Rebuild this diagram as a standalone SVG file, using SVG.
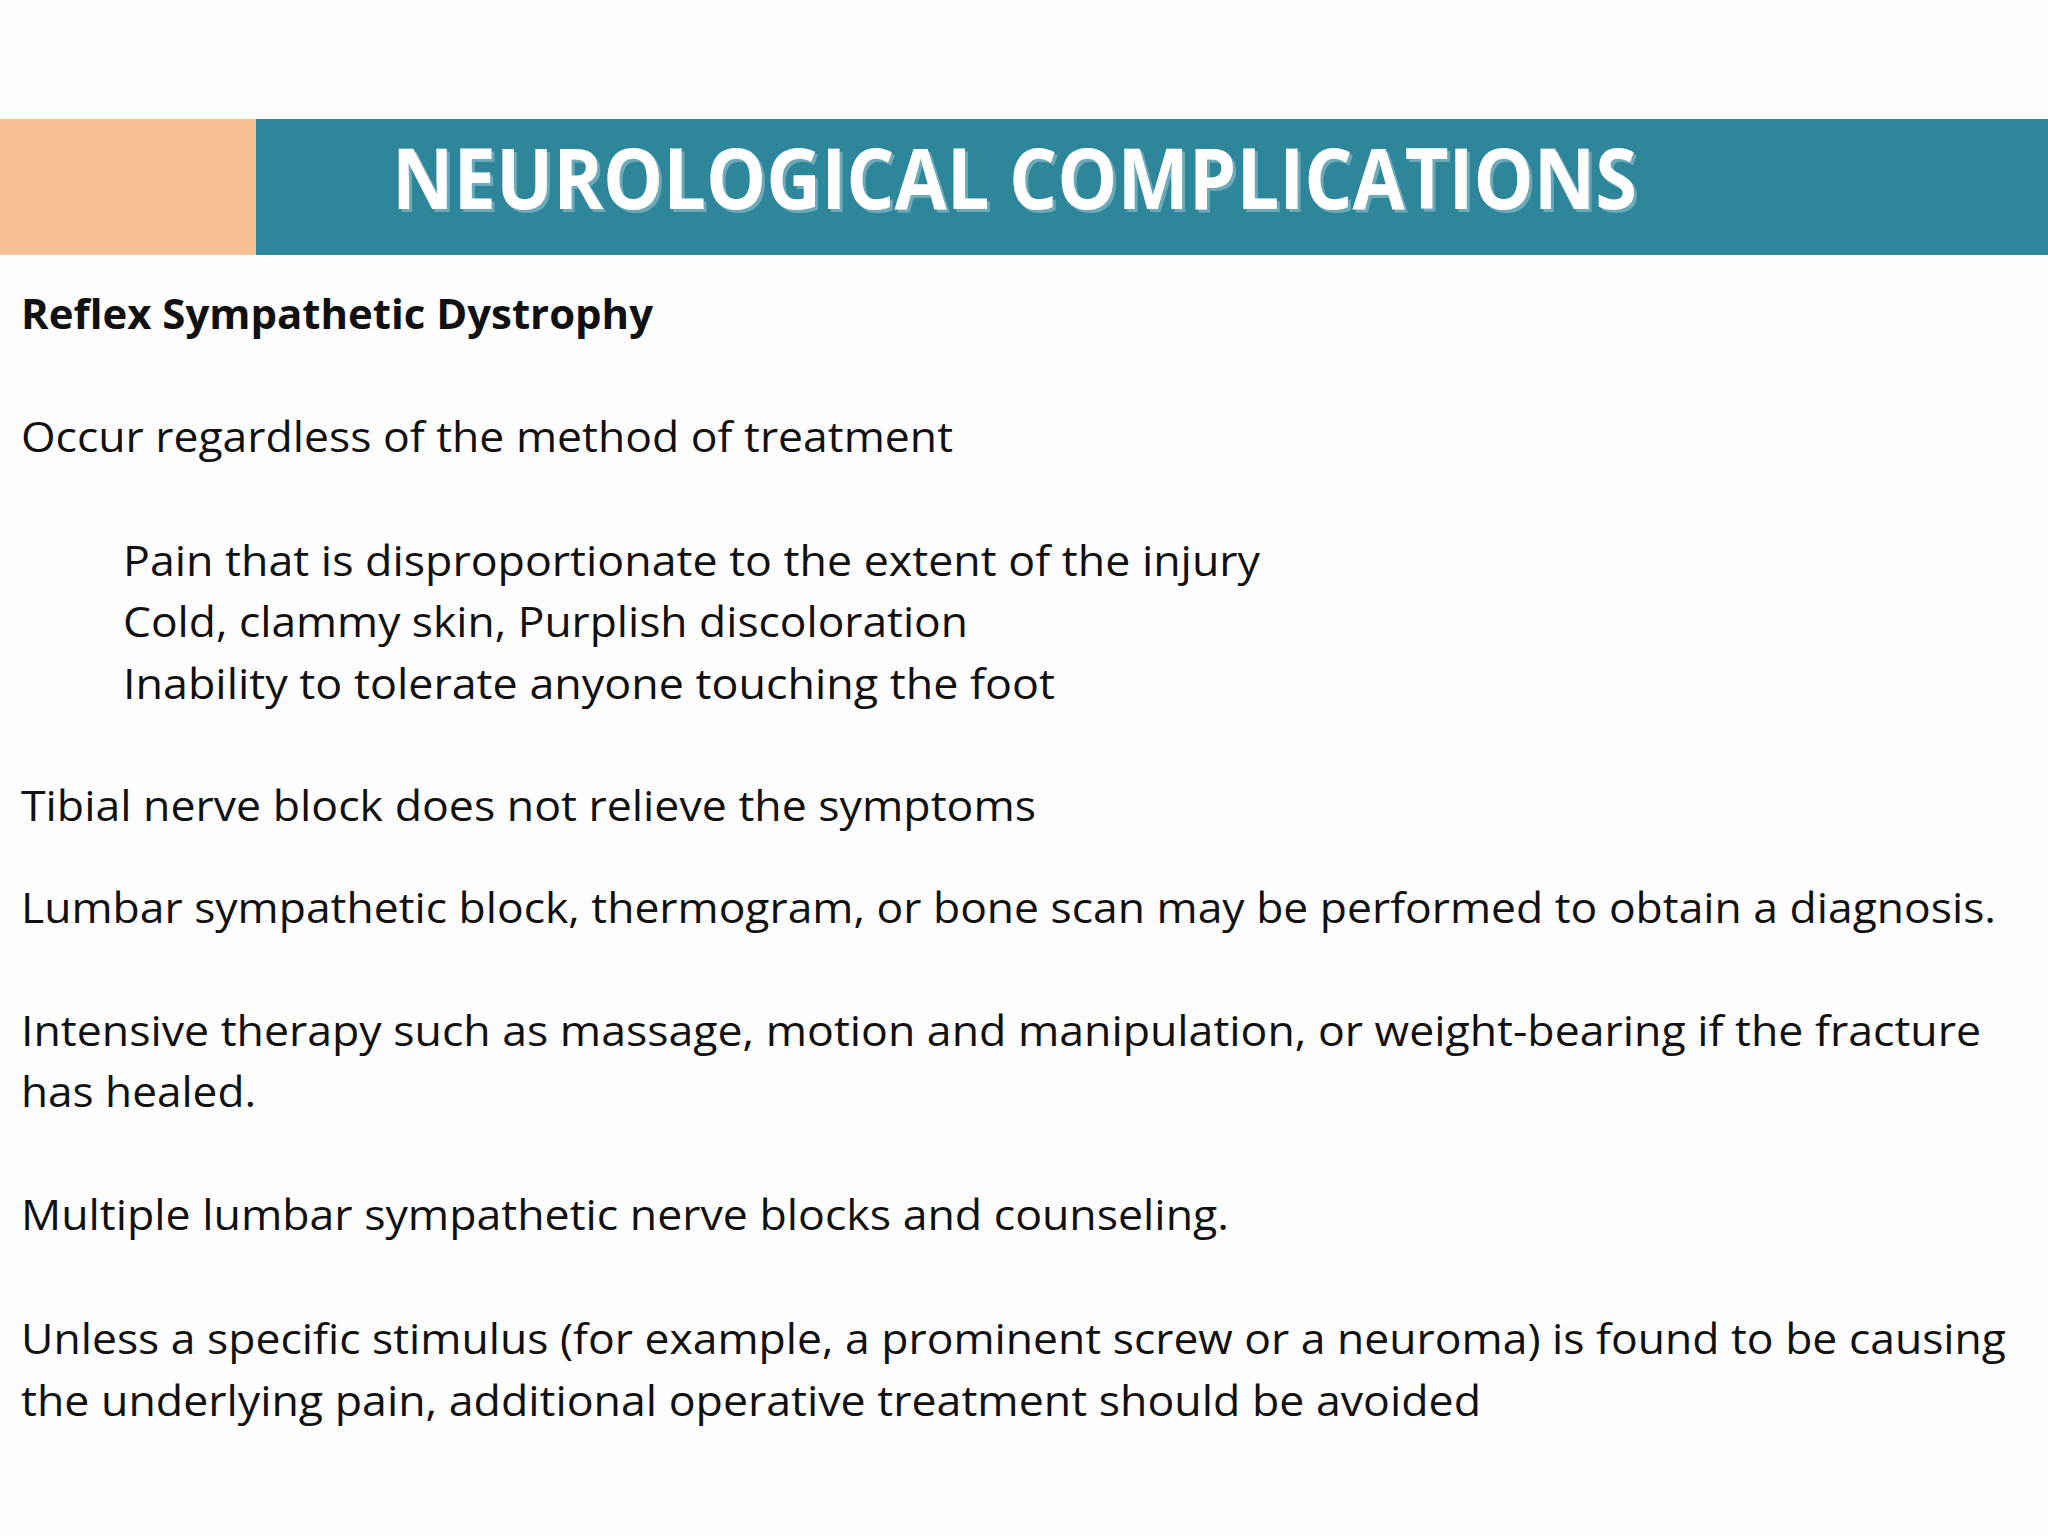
<svg xmlns="http://www.w3.org/2000/svg" width="2048" height="1536" viewBox="0 0 2048 1536">
<style>
.b{font-family:"Open Sans","Liberation Sans",sans-serif;font-size:42px;fill:#111}
.t{font-family:"Open Sans","Liberation Sans",sans-serif;font-weight:bold;font-size:84px;fill:#fff}
</style>
<rect width="2048" height="1536" fill="#fdfdfd"/>
<g id="header">
<rect x="0" y="119" width="256" height="136" fill="#f8c094"/>
<rect x="256" y="119" width="1792" height="136" fill="#2e869b"/>
<text class="t" x="392" y="209" textLength="1245" lengthAdjust="spacingAndGlyphs" fill-opacity="0.3" fill="#000" transform="translate(3,3)">NEUROLOGICAL COMPLICATIONS</text>
<text class="t" x="392" y="209" textLength="1245" lengthAdjust="spacingAndGlyphs">NEUROLOGICAL COMPLICATIONS</text>
</g>
<g id="body" class="b">
<text x="21" y="329" font-weight="bold" textLength="632" lengthAdjust="spacingAndGlyphs">Reflex Sympathetic Dystrophy</text>
<text x="21" y="452" textLength="932" lengthAdjust="spacingAndGlyphs">Occur regardless of the method of treatment</text>
<text x="123" y="576" textLength="1137" lengthAdjust="spacingAndGlyphs">Pain that is disproportionate to the extent of the injury</text>
<text x="123" y="637" textLength="845" lengthAdjust="spacingAndGlyphs">Cold, clammy skin, Purplish discoloration</text>
<text x="123" y="699" textLength="932" lengthAdjust="spacingAndGlyphs">Inability to tolerate anyone touching the foot</text>
<text x="21" y="821" textLength="1015" lengthAdjust="spacingAndGlyphs">Tibial nerve block does not relieve the symptoms</text>
<text x="21" y="923" textLength="1975" lengthAdjust="spacingAndGlyphs">Lumbar sympathetic block, thermogram, or bone scan may be performed to obtain a diagnosis.</text>
<text x="21" y="1046" textLength="1960" lengthAdjust="spacingAndGlyphs">Intensive therapy such as massage, motion and manipulation, or weight-bearing if the fracture</text>
<text x="21" y="1107" textLength="235" lengthAdjust="spacingAndGlyphs">has healed.</text>
<text x="21" y="1230" textLength="1208" lengthAdjust="spacingAndGlyphs">Multiple lumbar sympathetic nerve blocks and counseling.</text>
<text x="21" y="1354" textLength="1985" lengthAdjust="spacingAndGlyphs">Unless a specific stimulus (for example, a prominent screw or a neuroma) is found to be causing</text>
<text x="21" y="1416" textLength="1460" lengthAdjust="spacingAndGlyphs">the underlying pain, additional operative treatment should be avoided</text>
</g>
</svg>
